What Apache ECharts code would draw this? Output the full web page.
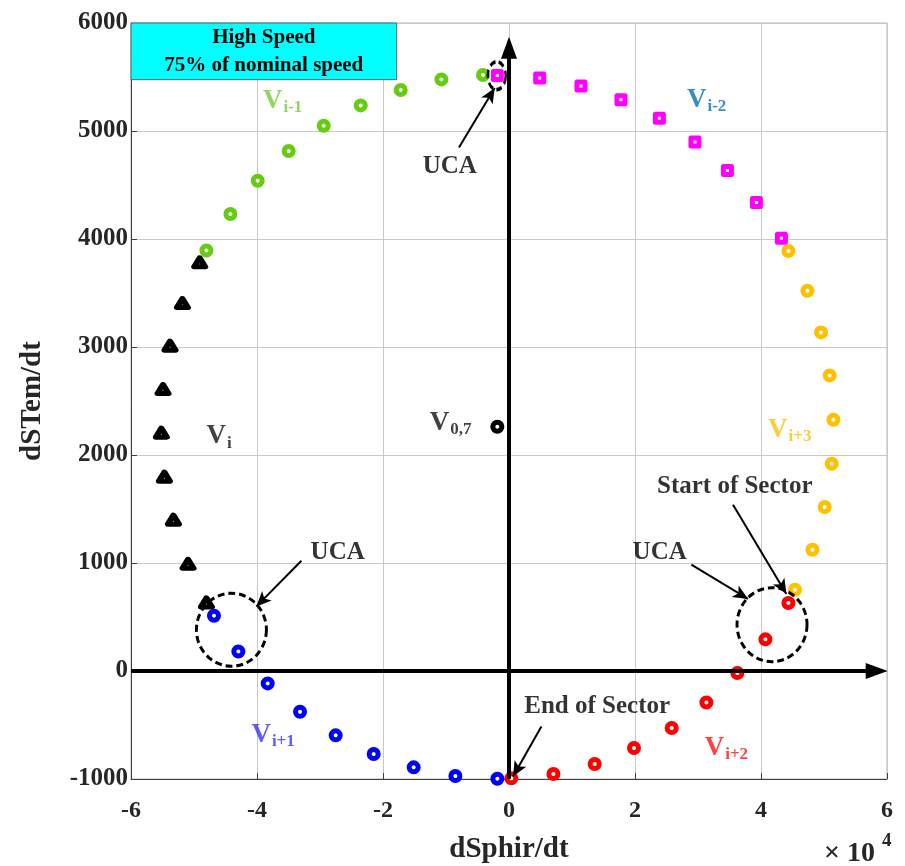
<!DOCTYPE html>
<html>
<head>
<meta charset="utf-8">
<script src="https://cdn.jsdelivr.net/npm/echarts@6.0.0/dist/echarts.min.js"></script>
<style>
  html, body { margin: 0; padding: 0; background: #ffffff; }
  #chart { width: 905px; height: 866px; }
</style>
</head>
<body>
<div id="chart"></div>
<script>
// Flux / torque derivative trajectories per voltage vector over one sector
// x: dSphir/dt, y: dSTem/dt
const xTickLabels = ['-6', '-4', '-2', '0', '2', '4', '6'];
const yTickLabels = ['-1000', '0', '1000', '2000', '3000', '4000', '5000', '6000'];

const vi = [[-49100, 3784], [-51840, 3407], [-53810, 3012], [-54920, 2611], [-55180, 2207],
            [-54700, 1799], [-53270, 1401], [-50950, 993], [-48030, 635]];
const viMinus1 = [[-48030, 3894], [-44220, 4231], [-39890, 4540], [-34970, 4815], [-29410, 5049],
                  [-23540, 5237], [-17190, 5380], [-10730, 5478], [-4130, 5519]];
const viMinus2 = [[-1850, 5515], [4870, 5491], [11430, 5417], [17780, 5290], [23870, 5117],
                  [29520, 4898], [34670, 4635], [39270, 4339], [43240, 4006]];
const viPlus3 = [[44350, 3889], [47360, 3521], [49520, 3135], [50900, 2737], [51490, 2327],
                 [51220, 1919], [50110, 1518], [48160, 1123], [45400, 753]];
const viPlus1 = [[-46830, 512], [-42960, 181], [-38300, -115], [-33170, -377], [-27510, -596],
                 [-21480, -769], [-15130, -892], [-8510, -972], [-1850, -997]];
const viPlus2 = [[44350, 630], [40700, 293], [36250, -19], [31330, -291], [25830, -528],
                 [19840, -713], [13600, -861], [7050, -954], [370, -994]];
const vZero = [[-1850, 2262]];

// Vector names placed next to their trajectories
const vectorNames = [
  { sub: 'i-1', at: [-39050, 5281], color: '#77CC33' },
  { sub: 'i-2', at: [28250, 5290], color: '#0070C0' },
  { sub: 'i', at: [-48030, 2172], color: '#111111' },
  { sub: '0,7', at: [-12590, 2296], color: '#111111' },
  { sub: 'i+3', at: [41110, 2234], color: '#FFC000' },
  { sub: 'i+1', at: [-40890, -590], color: '#3333FF' },
  { sub: 'i+2', at: [31060, -713], color: '#FF1111' }
];

// Callouts: text, arrow start, arrow end
const callouts = [
  { text: 'UCA', at: [-9410, 4672], from: [-7940, 4848], to: [-2270, 5398] },
  { text: 'UCA', at: [-27190, 1095], from: [-32950, 1021], to: [-40100, 598] },
  { text: 'UCA', at: [23920, 1095], from: [28950, 984], to: [37940, 667] },
  { text: 'Start of Sector', at: [35830, 1709], from: [35560, 1540], to: [44030, 713] },
  { text: 'End of Sector', at: [14000, -332], from: [5140, -513], to: [640, -976] }
];

// Dashed rings around the uncontrollable areas
const ucaZones = [[-44060, 382], [41750, 429], [-1950, 5512]];

const SERIF = "'Liberation Serif', 'DejaVu Serif', 'Times New Roman', serif";

function ring(name, data, color, symbol, size, bw, z) {
  return {
    type: 'scatter', name, data, symbol, symbolSize: size,
    itemStyle: { color: '#ffffff', borderColor: color, borderWidth: bw, borderJoin: 'round', opacity: 1 },
    z: z || 3, silent: true, animation: false
  };
}

const chart = echarts.init(document.getElementById('chart'), null, { renderer: 'canvas' });

chart.setOption({
  backgroundColor: '#ffffff',
  animation: false,
  grid: {
    left: 131, right: 18, top: 23, bottom: 87, containLabel: false, outerBoundsMode: 'none',
    show: true, borderColor: '#b4b4b4', borderWidth: 1
  },
  xAxis: {
    type: 'value', min: -60000, max: 60000, interval: 20000,
    name: 'dSphir/dt', nameLocation: 'middle', nameGap: 56,
    nameTextStyle: { fontFamily: SERIF, fontWeight: 'bold', fontSize: 29, color: '#262626' },
    axisLine: { show: true, onZero: false, lineStyle: { color: '#404040', width: 1 } },
    axisTick: { show: true, inside: true, length: 6, lineStyle: { color: '#404040' } },
    axisLabel: {
      fontFamily: SERIF, fontWeight: 'bold', fontSize: 24, color: '#262626', margin: 20,
      formatter: v => xTickLabels[Math.round((v + 60000) / 20000)]
    },
    splitLine: { show: true, lineStyle: { color: '#c8c8c8', width: 1 } }
  },
  yAxis: {
    type: 'value', min: -1000, max: 6000, interval: 1000,
    name: 'dSTem/dt', nameLocation: 'middle', nameGap: 84,
    nameTextStyle: { fontFamily: SERIF, fontWeight: 'bold', fontSize: 29, color: '#262626' },
    axisLine: { show: true, onZero: false, lineStyle: { color: '#404040', width: 1 } },
    axisTick: { show: true, inside: true, length: 6, lineStyle: { color: '#404040' } },
    axisLabel: {
      fontFamily: SERIF, fontWeight: 'bold', fontSize: 25, color: '#262626', margin: 3,
      formatter: v => yTickLabels[Math.round((v + 1000) / 1000)]
    },
    splitLine: { show: true, lineStyle: { color: '#c8c8c8', width: 1 } }
  },
  graphic: [
    { type: 'text', left: 824, top: 840, z: 10,
      style: { text: '× 10', font: 'bold 28px ' + SERIF, fill: '#262626' } },
    { type: 'text', left: 882, top: 832, z: 10,
      style: { text: '4', font: 'bold 19px ' + SERIF, fill: '#262626' } }
  ],
  series: [
    // speed caption box
    {
      type: 'line', data: [], silent: true, z: 2,
      markArea: {
        silent: true,
        itemStyle: { color: '#00FFFF', borderColor: '#606060', borderWidth: 1, opacity: 1 },
        label: {
          show: true, position: 'inside', color: '#000000',
          fontFamily: SERIF, fontWeight: 'bold', fontSize: 21, lineHeight: 28,
          formatter: 'High Speed\n75% of nominal speed'
        },
        data: [[{ coord: [-60000, 6000] }, { coord: [-17830, 5475] }]]
      }
    },
    // thick coordinate arrows through the origin
    {
      type: 'line', data: [], silent: true, z: 2,
      markLine: {
        silent: true, animation: false,
        symbol: ['none', 'triangle'], symbolSize: [16, 22],
        lineStyle: { color: '#000000', width: 4, type: 'solid' },
        label: { show: false },
        data: [
          [{ coord: [0, -1000] }, { coord: [0, 5770] }],
          [{ coord: [-60000, 0] }, { coord: [58360, 0] }]
        ]
      }
    },
    ring('Vi', vi, '#000000', 'triangle', [11, 9], 5.5),
    ring('Vi-1', viMinus1, '#66CC11', 'circle', 9, 5),
    ring('Vi+3', viPlus3, '#FFC000', 'circle', 9, 5),
    ring('Vi-2', viMinus2, '#FF00FF', 'rect', 8, 5),
    ring('Vi+1', viPlus1, '#0000FF', 'circle', 9, 5),
    ring('Vi+2', viPlus2, '#FF0000', 'circle', 9, 5),
    ring('V0,7', vZero, '#000000', 'circle', 9, 5),
    // dashed UCA rings
    {
      type: 'scatter', silent: true, z: 5,
      data: [
        { value: ucaZones[0], symbolSize: [70, 73] },
        { value: ucaZones[1], symbolSize: [70, 74] },
        { value: ucaZones[2], symbolSize: [18, 28] }
      ],
      symbol: 'circle',
      itemStyle: { color: 'rgba(0,0,0,0)', borderColor: '#000000', borderWidth: 3, borderType: [7, 4], opacity: 1 }
    },
    // callout arrows
    {
      type: 'line', data: [], silent: true, z: 6,
      markLine: {
        silent: true, animation: false,
        symbol: ['none', 'arrow'], symbolSize: [10, 15],
        lineStyle: { color: '#000000', width: 2, type: 'solid' },
        label: { show: false },
        data: callouts.map(c => [{ coord: c.from }, { coord: c.to }])
      }
    },
    // callout texts
    {
      type: 'scatter', silent: true, z: 7, symbolSize: 0,
      data: callouts.map(c => ({ value: c.at, name: c.text })),
      label: {
        show: true, position: 'inside', formatter: p => p.name, color: '#000000',
        fontFamily: SERIF, fontWeight: 'bold', fontSize: 25
      }
    },
    // vector names
    {
      type: 'scatter', silent: true, z: 7, symbolSize: 0,
      data: vectorNames.map(n => ({
        value: n.at,
        label: {
          formatter: '{v|V}{s|' + n.sub + '}',
          rich: {
            v: { color: n.color, fontFamily: SERIF, fontWeight: 'bold', fontSize: 27 },
            s: { color: n.color, fontFamily: SERIF, fontWeight: 'bold', fontSize: 17, padding: [14, 0, 0, 1] }
          }
        }
      })),
      label: { show: true, position: 'right', distance: 0 }
    }
  ]
});
</script>
</body>
</html>
